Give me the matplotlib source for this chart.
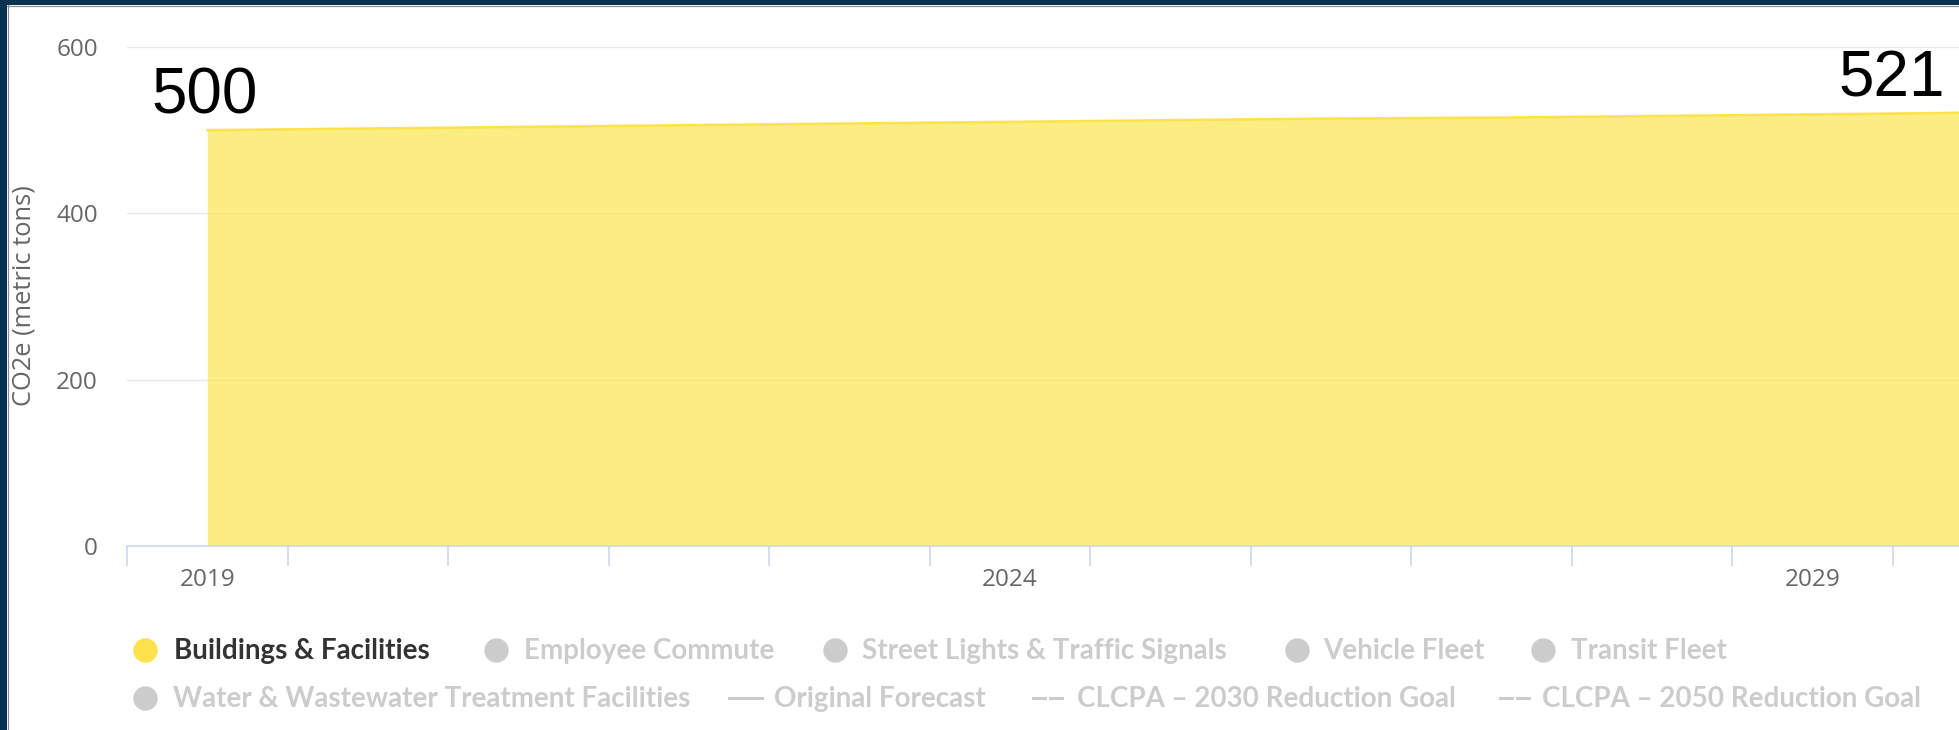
import matplotlib
matplotlib.use("Agg")
import matplotlib.pyplot as plt
from matplotlib import font_manager
from matplotlib.lines import Line2D
from matplotlib.patches import Rectangle

# ---- data -------------------------------------------------------------
years = [2019, 2020, 2021, 2022, 2023, 2024, 2025, 2026, 2027, 2028, 2029, 2030]
buildings = [500, 502, 504, 506, 508, 510, 512, 514, 515, 517, 519, 521]
labelled_years = [2019, 2024, 2029]
y_ticks = [0, 200, 400, 600]

legend_area_row1 = ["Buildings & Facilities", "Employee Commute",
                    "Street Lights & Traffic Signals", "Vehicle Fleet",
                    "Transit Fleet"]
legend_area_row2 = ["Water & Wastewater Treatment Facilities"]
legend_lines = ["Original Forecast", "CLCPA \u2013 2030 Reduction Goal",
                "CLCPA \u2013 2050 Reduction Goal"]

# ---- styling ----------------------------------------------------------
W, H = 1959, 730
NAVY = "#07324f"
FILL = "#fbe758"
LINE = "#fde24c"
AXIS = "#ccd6eb"
GRID = "#e6e6e6"
TICK_TXT = "#666666"
ACTIVE = "#333333"
INACTIVE = "#cccccc"

avail = {f.name for f in font_manager.fontManager.ttflist}


def first_font(cands):
    for c in cands:
        if c in avail:
            return c
    return "DejaVu Sans"


TICK_FONT = first_font(["Open Sans", "Noto Sans", "DejaVu Sans"])
LEG_FONT = first_font(["Lato", "Open Sans", "DejaVu Sans"])
BIG_FONT = first_font(["Liberation Sans", "DejaVu Sans"])


def fx(px):
    return px / W


def fy(py):
    return 1 - py / H


def px2pt(px):
    return px * 72 / 100


fig = plt.figure(figsize=(W / 100, H / 100), dpi=100)
fig.patch.set_facecolor("white")

# plot area; the category axis runs past the right edge of the canvas
left_px, top_px, bottom_px = 127, 47, 546
step_px = 160.5
right_px = left_px + step_px * len(years)
ax = fig.add_axes([fx(left_px), fy(bottom_px), (right_px - left_px) / W,
                   (bottom_px - top_px) / H])
ax.set_facecolor("none")

x = list(range(len(years)))
ax.fill_between(x, buildings, 0, color=FILL, alpha=0.75, lw=0, zorder=2)
ax.plot(x, buildings, color=LINE, lw=px2pt(2.5), solid_capstyle="round",
        zorder=3)

ax.set_xlim(-0.5, len(years) - 0.5)
ax.set_ylim(0, 600)

# y axis
ax.set_yticks(y_ticks)
ax.set_yticklabels([str(v) for v in y_ticks], fontfamily=TICK_FONT,
                   fontsize=17.5, color=TICK_TXT)
ax.tick_params(axis="y", length=0, pad=21)
ax.yaxis.grid(True, color=GRID, lw=px2pt(1.3), zorder=0)
ax.set_axisbelow(True)

# x axis: labels on category centres, tick marks on category boundaries
ax.set_xticks([years.index(y) for y in labelled_years])
ax.set_xticklabels([str(y) for y in labelled_years], fontfamily=TICK_FONT,
                   fontsize=17.5, color=TICK_TXT)
ax.set_xticks([i - 0.5 for i in range(len(years) + 1)], minor=True)
ax.tick_params(axis="x", which="major", length=0, pad=15.5)
ax.tick_params(axis="x", which="minor", length=px2pt(20), width=px2pt(1.6),
               color=AXIS, direction="out")

for s in ("left", "right", "top"):
    ax.spines[s].set_visible(False)
ax.spines["bottom"].set_color(AXIS)
ax.spines["bottom"].set_linewidth(px2pt(1.6))
ax.spines["bottom"].set_zorder(4)

# value call-outs at both ends of the series
ax.annotate(f"{buildings[0]:.0f}", xy=(0, buildings[0]), xytext=(-3, 17),
            textcoords="offset pixels", ha="center", va="baseline",
            fontfamily=BIG_FONT, fontsize=46, color="black", zorder=5,
            annotation_clip=False)
ax.annotate(f"{buildings[-1]:.0f}", xy=(len(years) - 1, buildings[-1]),
            xytext=(-28, 16), textcoords="offset pixels", ha="right",
            va="baseline", fontfamily=BIG_FONT, fontsize=46, color="black",
            zorder=5, annotation_clip=False)

# y axis title
ylab = fig.text(fx(24), fy(296), "CO2e (metric tons)", rotation=90,
                ha="center", va="center", fontfamily=TICK_FONT, fontsize=17,
                color=TICK_TXT)

renderer = fig.canvas.get_renderer()


def width_px(t):
    return t.get_window_extent(renderer).width


# rotated text: its length runs along the vertical extent
ylab.set_fontsize(ylab.get_fontsize() * 222 / ylab.get_window_extent(renderer).height)

# ---- legend -----------------------------------------------------------
row1_y, row2_y = 659, 707           # text baselines
row1_c, row2_c = 650, 698           # symbol centres


def leg_text(px, py, s, colour):
    return fig.text(fx(px), fy(py), s, ha="left", va="baseline",
                    fontfamily=LEG_FONT, fontweight="bold", fontsize=17,
                    color=colour)


def leg_dot(px, py, colour):
    fig.add_artist(Line2D([fx(px)], [fy(py)], marker="o", ms=px2pt(23),
                          mfc=colour, mec=colour, lw=0,
                          transform=fig.transFigure))


def leg_seg(x0, x1, py):
    fig.add_artist(Line2D([fx(x0), fx(x1)], [fy(py), fy(py)],
                          color=INACTIVE, lw=px2pt(3),
                          transform=fig.transFigure))


texts = []
row1_dots = [145, 496, 835, 1297, 1543]
row1_txt = [174, 524, 862, 1323, 1571]
for i, name in enumerate(legend_area_row1):
    colour = LINE if i == 0 else INACTIVE
    leg_dot(row1_dots[i], row1_c, colour)
    texts.append(leg_text(row1_txt[i], row1_y, name,
                          ACTIVE if i == 0 else INACTIVE))

leg_dot(145, row2_c, INACTIVE)
water = leg_text(173, row2_y, legend_area_row2[0], INACTIVE)
texts.append(water)

# line-series entries: solid symbol, then two dashed ones
leg_seg(729, 762, row2_c)
texts.append(leg_text(774, row2_y, legend_lines[0], INACTIVE))
for d0, t0, name in [(1033, 1077, legend_lines[1]),
                     (1500, 1542, legend_lines[2])]:
    leg_seg(d0, d0 + 12, row2_c)
    leg_seg(d0 + 17, d0 + 29, row2_c)
    texts.append(leg_text(t0, row2_y, name, INACTIVE))

scale = 0.5 * (514 / width_px(water) + 381 / width_px(texts[-1]))
for t in texts:
    t.set_fontsize(t.get_fontsize() * scale)

# ---- frame ------------------------------------------------------------
fig.add_artist(Rectangle((0, fy(5)), 1, 5 / H, transform=fig.transFigure,
                         color=NAVY, lw=0, zorder=10))
fig.add_artist(Rectangle((0, 0), 7 / W, 1, transform=fig.transFigure,
                         color=NAVY, lw=0, zorder=10))
fig.add_artist(Line2D([fx(7), 1], [fy(5.8), fy(5.8)], color="#8c8c8c",
                      lw=px2pt(1.2), transform=fig.transFigure, zorder=10))
fig.add_artist(Line2D([fx(7.8), fx(7.8)], [0, fy(5)], color="#8c8c8c",
                      lw=px2pt(1.2), transform=fig.transFigure, zorder=10))

fig.savefig("out.png", dpi=100, facecolor="white")
